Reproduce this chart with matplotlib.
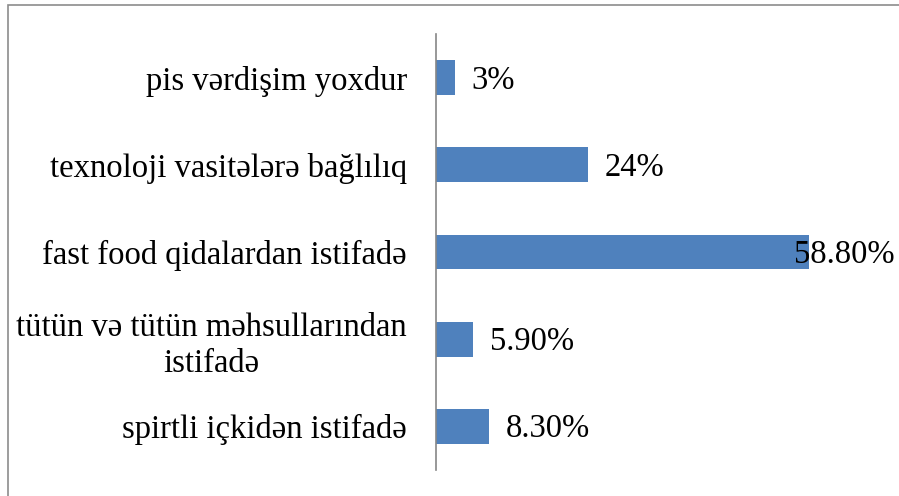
import matplotlib.pyplot as plt
from matplotlib.patches import Rectangle

# categories (top to bottom) and shares in percent
categories = ["pis vərdişim yoxdur",
              "texnoloji vasitələrə bağlılıq",
              "fast food qidalardan istifadə",
              "tütün və tütün məhsullarından\nistifadə",
              "spirtli içkidən istifadə"]
values = [3, 24, 58.8, 5.9, 8.3]
value_labels = ["3%", "24%", "58.80%", "5.90%", "8.30%"]

plt.rcParams['font.family'] = ['Liberation Serif', 'DejaVu Serif']

fig = plt.figure(figsize=(8.99, 4.96), dpi=100)
# outer chart frame (cut off at right and bottom)
fig.patches.append(Rectangle((8 / 899, -0.1), 1.2, 1.1 - 5 / 496,
                             transform=fig.transFigure, fill=False,
                             edgecolor="#8c8c8c", lw=1.2))

ax = fig.add_axes([436 / 899, 26 / 496, 1 - 436 / 899, 436 / 496])
ypos = list(range(len(categories)))[::-1]
ax.barh(ypos, values, height=0.4, color="#4f81bd")
ax.set_xlim(0, (899 - 436) / 6.34)
ax.set_ylim(-0.5, len(categories) - 0.5)

ax.set_yticks(ypos)
ax.set_yticklabels(categories, fontsize=23.5, multialignment="center",
                   linespacing=1.25)
ax.tick_params(axis="y", length=0, pad=21)
ax.set_xticks([])

for s in ["top", "right", "bottom"]:
    ax.spines[s].set_visible(False)
ax.spines["left"].set_color("#868686")
ax.spines["left"].set_linewidth(1.2)

vmax = max(values)
for y, v, lab in zip(ypos, values, value_labels):
    if v == vmax:
        ax.annotate(lab, xy=(1.0, y), xycoords=("axes fraction", "data"),
                    xytext=(-3, -2), textcoords="offset points",
                    ha="right", va="center", fontsize=23.5)
    else:
        ax.annotate(lab, xy=(v, y), xytext=(12, -2), textcoords="offset points",
                    ha="left", va="center", fontsize=23.5)

fig.savefig("out.png", dpi=100)
